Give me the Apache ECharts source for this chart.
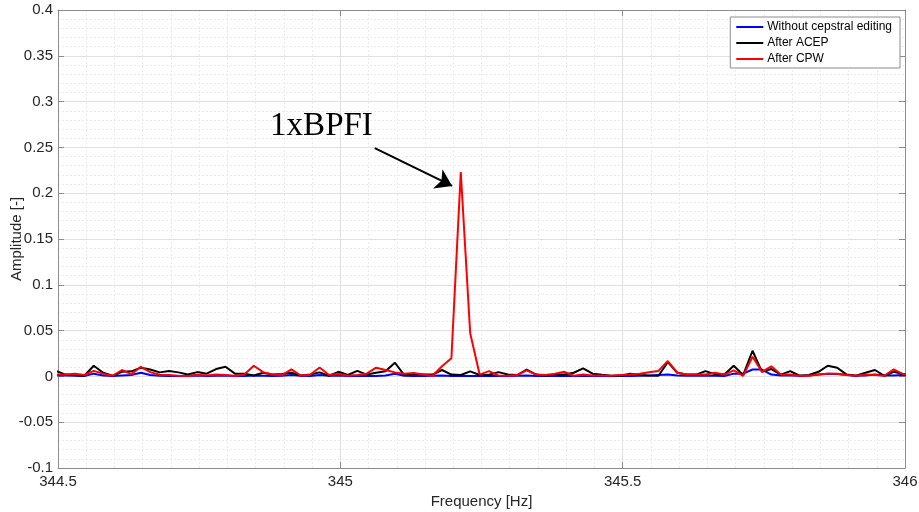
<!DOCTYPE html>
<html>
<head>
<meta charset="utf-8">
<script src="https://cdn.jsdelivr.net/npm/echarts@6/dist/echarts.min.js"></script>
<style>
html,body{margin:0;padding:0;background:#fff;}
#chart{width:919px;height:512px;}
</style>
</head>
<body>
<div id="chart"></div>
<script>
// Frequency bins [Hz]
const freqs = [344.4967,344.5133,344.5300,344.5467,344.5633,344.5800,344.5967,344.6133,344.6300,344.6467,
344.6633,344.6800,344.6967,344.7133,344.7300,344.7467,344.7633,344.7800,344.7967,344.8133,
344.8300,344.8467,344.8633,344.8800,344.8967,344.9133,344.9300,344.9467,344.9633,344.9800,
344.9967,345.0133,345.0300,345.0467,345.0633,345.0800,345.0967,345.1133,345.1300,345.1467,
345.1633,345.1800,345.1967,345.2133,345.2300,345.2467,345.2633,345.2800,345.2967,345.3133,
345.3300,345.3467,345.3633,345.3800,345.3967,345.4133,345.4300,345.4467,345.4633,345.4800,
345.4967,345.5133,345.5300,345.5467,345.5633,345.5800,345.5967,345.6133,345.6300,345.6467,
345.6633,345.6800,345.6967,345.7133,345.7300,345.7467,345.7633,345.7800,345.7967,345.8133,
345.8300,345.8467,345.8633,345.8800,345.8967,345.9133,345.9300,345.9467,345.9633,345.9800,
345.9967,346.0133];

const withoutEditing = [0.001,0.001,0.0008,0.0005,0.003,0.001,0.0005,0.001,0.0015,0.004,
0.0015,0.0008,0.0005,0.0005,0.0008,0.001,0.0005,0.0008,0.001,0.0005,
0.0005,0.001,0.0008,0.0005,0.0008,0.0015,0.0008,0.0005,0.0015,0.0008,
0.001,0.0005,0.0008,0.0005,0.0005,0.001,0.003,0.0008,0.0005,0.0005,
0.0008,0.001,0.0005,0.0008,0.0005,0.0005,0.0008,0.0005,0.0005,0.0008,
0.001,0.0005,0.0005,0.0005,0.0008,0.0005,0.0008,0.0005,0.0005,0.0005,
0.0008,0.0005,0.0008,0.001,0.0015,0.002,0.001,0.0008,0.0008,0.001,
0.0008,0.0005,0.003,0.003,0.0075,0.0075,0.002,0.001,0.001,0.0008,
0.001,0.002,0.003,0.0025,0.0015,0.0008,0.001,0.002,0.001,0.001,
0.0015,0.001];

const afterACEP = [0.006,0.002,0.0015,0.0007,0.0116,0.004,0.0007,0.005,0.0055,0.0095,
0.0076,0.0044,0.006,0.0044,0.002,0.0047,0.003,0.008,0.0106,0.003,
0.003,0.001,0.004,0.002,0.0025,0.004,0.001,0.002,0.0044,0.0007,
0.005,0.0015,0.006,0.002,0.004,0.0055,0.0149,0.0015,0.003,0.002,
0.002,0.007,0.002,0.0015,0.0055,0.0015,0.0018,0.0047,0.002,0.0015,
0.0073,0.002,0.0007,0.002,0.002,0.004,0.0087,0.003,0.0018,0.0007,
0.0007,0.003,0.0015,0.001,0.0007,0.0155,0.004,0.002,0.002,0.0058,
0.0025,0.002,0.0116,0.0015,0.028,0.005,0.008,0.002,0.0058,0.0007,
0.0015,0.005,0.0116,0.0095,0.002,0.0007,0.004,0.007,0.0007,0.005,
0.0025,0.002];

const afterCPW = [0.002,0.002,0.003,0.0015,0.006,0.003,0.0007,0.007,0.0025,0.0105,
0.0047,0.0018,0.0015,0.0007,0.0004,0.0018,0.001,0.002,0.0015,0.0004,
0.002,0.0116,0.0047,0.002,0.0015,0.0076,0.001,0.0018,0.0098,0.0015,
0.003,0.0007,0.0015,0.003,0.0095,0.007,0.0044,0.003,0.0036,0.002,
0.0007,0.011,0.0198,0.223,0.047,0.002,0.0058,0.001,0.0007,0.0015,
0.0065,0.002,0.0015,0.003,0.005,0.0007,0.002,0.001,0.001,0.0007,
0.0015,0.002,0.003,0.0045,0.006,0.0168,0.004,0.002,0.002,0.002,
0.004,0.002,0.0065,0.0007,0.0215,0.005,0.011,0.002,0.002,0.0007,
0.0007,0.002,0.003,0.003,0.0015,0.0007,0.002,0.0015,0.0007,0.0076,
0.0025,0.002];

const seriesNames = ['Without cepstral editing','After ACEP','After CPW'];
const seriesColors = ['#0000ff','#000000','#ff0000'];
const xTicks = {min:344.5, max:346, interval:0.5};
const yTicks = {min:-0.1, max:0.4, interval:0.05};
const annotationText = '1xBPFI';
const annotationPos = [344.9666, 0.2734];
const arrowFrom = [345.061, 0.2493];
const arrowTo = [345.198, 0.2079];

const pair = (ys) => freqs.map((f,i)=>[f, ys[i]]);
const txtColor = '#262626';
const font = 'Liberation Sans, Arial, Helvetica, sans-serif';

const chart = echarts.init(document.getElementById('chart'), null, {renderer:'canvas'});
const axisLineStyle = {color:'#8c8c8c', width:1};
const baseX = {
  type:'value', min:xTicks.min, max:xTicks.max, interval:xTicks.interval,
  axisLine:{show:true, onZero:false, lineStyle:axisLineStyle},
  axisTick:{show:true, inside:true, length:6, lineStyle:{color:'#8c8c8c'}},
};
const baseY = {
  type:'value', min:yTicks.min, max:yTicks.max, interval:yTicks.interval,
  axisLine:{show:true, onZero:false, lineStyle:axisLineStyle},
  axisTick:{show:true, inside:true, length:6, lineStyle:{color:'#8c8c8c'}},
};

const option = {
  animation:false,
  backgroundColor:'#ffffff',
  grid:{left:58, right:14, top:10, bottom:44, containLabel:false, outerBoundsMode:'none'},
  legend:{
    right:19, top:17, orient:'vertical', align:'left',
    data:seriesNames,
    icon:'rect', itemWidth:27, itemHeight:2, itemGap:0,
    padding:[2,8,1,6],
    backgroundColor:'#ffffff', borderColor:'#8c8c8c', borderWidth:1,
    textStyle:{fontFamily:font, fontSize:12, color:'#000', lineHeight:16, padding:[0,0,0,-1]},
    selectedMode:false
  },
  xAxis:[
    Object.assign({}, baseX, {
      position:'bottom',
      name:'Frequency [Hz]', nameLocation:'middle', nameGap:26,
      nameTextStyle:{fontFamily:font, fontSize:15, color:txtColor},
      axisLabel:{fontFamily:font, fontSize:15, color:txtColor, margin:6},
      splitLine:{show:true, lineStyle:{color:'#e0e0e0', width:1}},
      minorTick:{show:false, splitNumber:10},
      minorSplitLine:{show:true, lineStyle:{color:'#ebebeb', width:1, type:[2,2]}}
    }),
    Object.assign({}, baseX, {
      position:'top', axisLabel:{show:false}, splitLine:{show:false}
    })
  ],
  yAxis:[
    Object.assign({}, baseY, {
      position:'left',
      name:'Amplitude [-]', nameLocation:'middle', nameGap:34, nameMoveOverlap:false,
      nameTextStyle:{fontFamily:font, fontSize:15, color:txtColor},
      axisLabel:{fontFamily:font, fontSize:15, color:txtColor, margin:5},
      splitLine:{show:true, lineStyle:{color:'#e0e0e0', width:1}},
      minorTick:{show:false, splitNumber:5},
      minorSplitLine:{show:true, lineStyle:{color:'#ebebeb', width:1, type:[2,2]}}
    }),
    Object.assign({}, baseY, {
      position:'right', axisLabel:{show:false}, splitLine:{show:false}
    })
  ],
  series:[
    {name:seriesNames[0], type:'line', data:pair(withoutEditing), showSymbol:false, symbol:'none',
     lineStyle:{width:2, color:seriesColors[0]}, itemStyle:{color:seriesColors[0]}, z:2},
    {name:seriesNames[1], type:'line', data:pair(afterACEP), showSymbol:false, symbol:'none',
     lineStyle:{width:2, color:seriesColors[1]}, itemStyle:{color:seriesColors[1]}, z:3},
    {name:seriesNames[2], type:'line', data:pair(afterCPW), showSymbol:false, symbol:'none',
     lineStyle:{width:2, color:seriesColors[2]}, itemStyle:{color:seriesColors[2]}, z:4,
     markLine:{
       silent:true, animation:false,
       symbol:['none','arrow'], symbolSize:16,
       lineStyle:{color:'#000', width:2, type:'solid'},
       label:{show:false},
       emphasis:{disabled:true},
       data:[[{coord:arrowFrom, symbol:'none'}, {coord:arrowTo, symbol:'arrow', symbolSize:16, itemStyle:{color:'#000'}}]]
     },
     markPoint:{
       silent:true, animation:false,
       symbol:'circle', symbolSize:0,
       itemStyle:{color:'rgba(0,0,0,0)'},
       label:{show:true, position:'inside', formatter:annotationText,
              fontFamily:'Liberation Serif, Times New Roman, serif', fontSize:33, color:'#000'},
       data:[{coord:annotationPos}]
     }
    }
  ]
};
chart.setOption(option);
</script>
</body>
</html>
